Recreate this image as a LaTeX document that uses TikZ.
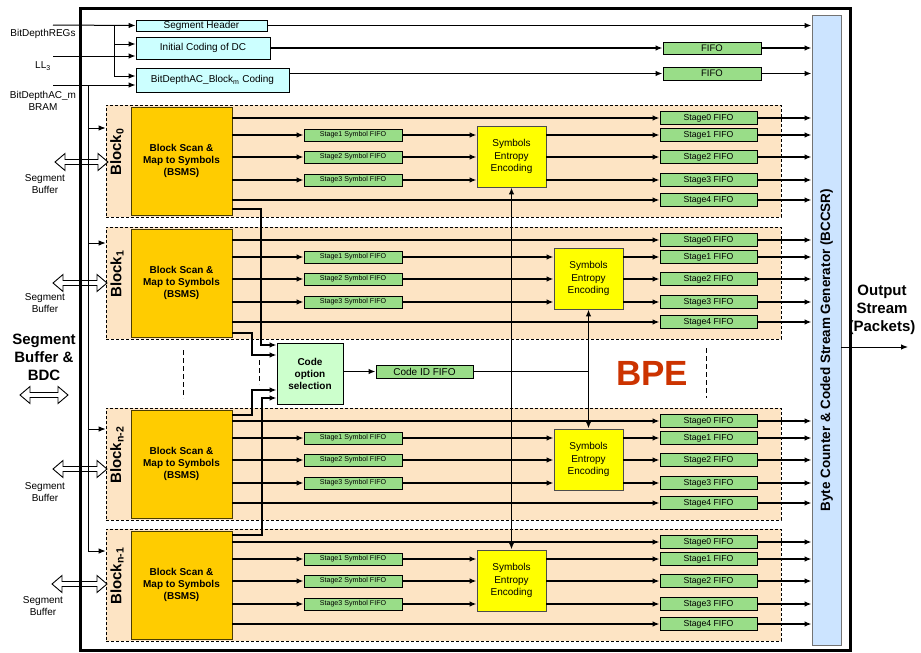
\documentclass[tikz,border=0pt]{standalone}
\usepackage{fontspec}
\setmainfont{Liberation Sans}
\usetikzlibrary{arrows.meta,calc}

\definecolor{cyanbox}{RGB}{204,255,255}
\definecolor{fifo}{RGB}{153,221,136}
\definecolor{gold}{RGB}{255,204,0}
\definecolor{peach}{RGB}{253,228,196}
\definecolor{bccsrc}{RGB}{204,228,255}
\definecolor{codegreen}{RGB}{204,255,204}
\definecolor{bpec}{RGB}{204,51,0}
\definecolor{yel}{RGB}{255,255,0}

\tikzset{
  box/.style={draw, inner sep=0pt, align=center, line width=0.9pt},
  arr/.style={-{Latex[length=7pt,width=5.5pt]}, line width=1.8pt},
  thinarr/.style={-{Latex[length=7pt,width=5.5pt]}, line width=1pt},
  dblarr/.style={{Latex[length=7pt,width=5.5pt]}-{Latex[length=7pt,width=5.5pt]}, line width=1.8pt},
  blockbg/.style={draw, dashed, dash pattern=on 3pt off 2pt, fill=peach, line width=0.7pt, minimum width=675pt, minimum height=112pt, inner sep=0pt},
  bsms/.style={box, fill=gold, draw=black!70!gold, minimum width=101pt, minimum height=108pt, font=\bfseries\fontsize{10}{12}\selectfont},
  symfifo/.style={box, fill=fifo, minimum width=98pt, minimum height=12pt, font=\fontsize{7.1}{8}\selectfont},
  stagefifo/.style={box, fill=fifo, minimum width=97pt, minimum height=13pt, font=\fontsize{8.7}{9}\selectfont},
  seebox/.style={box, fill=yel, draw=black!70, minimum width=69pt, minimum height=61pt, font=\fontsize{10}{12.5}\selectfont},
  topbox/.style={box, fill=cyanbox, font=\fontsize{10}{11}\selectfont},
  blklabel/.style={rotate=90, font=\bfseries\fontsize{15}{15}\selectfont, inner sep=0pt},
  sidelabel/.style={align=center, font=\fontsize{10}{13}\selectfont, inner sep=0pt},
  hollow/.style={draw, line width=0.9pt},
  dashline/.style={dashed, dash pattern=on 5pt off 3pt, line width=0.9pt}
}

% #1 id, #2 top y, #3 SEE left x, #4 subscript
\newcommand{\bperow}[4]{%
  \node[blockbg] (blk#1) at (443.5,{#2+56}) {};
  \node[bsms] (bs#1) at (181.5,{#2+56}) {Block Scan \&\\Map to Symbols\\(BSMS)};
  \node[blklabel] (bl#1) at (117,{#2+47}) {Block\textsubscript{#4}};
  \node[seebox] (see#1) at ({#3+34.5},{#2+51.5}) {Symbols\\Entropy\\Encoding};
  \foreach \k/\d in {0/13,1/30,2/52,3/75,4/95} {
    \node[stagefifo] (st#1\k) at (708.5,{#2+\d}) {Stage\k\ FIFO};
    \draw[arr] (st#1\k.east) -- (st#1\k.east -| bccsr.west);
  }
  \foreach \k/\d in {1/30,2/52,3/75} {
    \node[symfifo] (sy#1\k) at (353,{#2+\d}) {Stage\k\ Symbol FIFO};
    \draw[arr] (bs#1.east |- sy#1\k) -- (sy#1\k.west);
    \draw[arr] (sy#1\k.east) -- (sy#1\k.east -| see#1.west);
    \draw[arr] (see#1.east |- sy#1\k) -- (st#1\k.west);
  }
  \draw[arr] (bs#1.east |- st#10) -- (st#10.west);
  \draw[arr] (bs#1.east |- st#14) -- (st#14.west);
}

% hollow double arrow: #1 x1, #2 x2, #3 y
\newcommand{\hollowarrow}[3]{%
  \draw[hollow] (#1,#3) -- ({#1+10},{#3-8.5}) -- ({#1+10},{#3-2.5}) -- ({#2-10},{#3-2.5}) -- ({#2-10},{#3-8.5}) -- (#2,#3)
    -- ({#2-10},{#3+8.5}) -- ({#2-10},{#3+2.5}) -- ({#1+10},{#3+2.5}) -- ({#1+10},{#3+8.5}) -- cycle;
}

\begin{document}
\begin{tikzpicture}[x=1pt,y=-1pt]
\useasboundingbox (0,0) rectangle (921,653);
\fill[white] (0,0) rectangle (921,653);

% BCCSR
\node[draw=black!55, fill=bccsrc, line width=0.9pt, minimum width=29pt, minimum height=630pt, inner sep=0pt] (bccsr) at (826.5,330) {};
\node[rotate=90, font=\bfseries\fontsize{13.5}{13.5}\selectfont, inner sep=0pt] (bccsrlabel) at (826.5,350) {Byte Counter \& Coded Stream Generator (BCCSR)};

% top boxes
\node[topbox, minimum width=131pt, minimum height=11pt] (segh) at (201.5,25.5) {Segment Header};
\node[topbox, minimum width=134pt, minimum height=22pt] (icdc) at (203,48) {Initial Coding of DC};
\node[topbox, minimum width=153pt, minimum height=24pt] (bdac) at (212.5,80) {BitDepthAC\_Block\textsubscript{m} Coding};
\node[stagefifo, minimum width=98pt, minimum height=12pt, font=\fontsize{9.5}{10}\selectfont] (fifo1) at (712,48) {FIFO};
\node[stagefifo, minimum width=98pt, minimum height=13pt, font=\fontsize{9.5}{10}\selectfont] (fifo2) at (712,73.5) {FIFO};

\draw[arr] (segh.east) -- (segh.east -| bccsr.west);
\draw[arr] (icdc.east) -- (fifo1.west);
\draw[arr] (fifo1.east) -- (fifo1.east -| bccsr.west);
\draw[arr] (fifo2.west -| bdac.east) -- (fifo2.west);
\draw[arr] (fifo2.east) -- (fifo2.east -| bccsr.west);

% left input labels
\node[sidelabel] (lregs) at (43,34) {BitDepthREGs};
\node[sidelabel] (lll) at (43,66) {LL\textsubscript{3}};
\node[sidelabel, font=\fontsize{10}{12}\selectfont] (lbram) at (43,101) {BitDepthAC\_m\\BRAM};

\coordinate (inA) at (53,25);
\coordinate (inB) at (53,56);
\coordinate (inC) at (53,85);
\coordinate (brA) at (114,25);
\draw[thinarr] (inA) -- (segh.west);
\draw[line width=1pt] (brA) -- (114,76);
\draw[thinarr] (114,44) -- (segh.west |- 0,44);
\draw[thinarr] (inB) -- (segh.west |- 0,56);
\draw[thinarr] (114,76) -- (segh.west |- 0,76);
\draw[thinarr] (inC) -- (segh.west |- 0,85);

% rows
\bperow{0}{105}{477}{0}
\bperow{1}{227}{554}{1}
\bperow{2}{408}{554}{n-2}
\bperow{3}{529}{477}{n-1}

% vertical feed line from BRAM
\draw[line width=1pt] (88,85) -- (88,551);
\draw[thinarr] (88,128) -- (blk0.west |- 0,128);
\draw[thinarr] (88,243) -- (blk1.west |- 0,243);
\draw[thinarr] (88,429) -- (blk2.west |- 0,429);
\draw[thinarr] (88,551) -- (blk3.west |- 0,551);

% code option selection
\node[box, fill=codegreen, minimum width=66pt, minimum height=61pt, font=\bfseries\fontsize{10}{12}\selectfont] (cos) at (310,373.5) {Code\\option\\selection};
\node[box, fill=fifo, minimum width=97pt, minimum height=13pt, font=\fontsize{10}{10}\selectfont] (cid) at (424.5,371.5) {Code ID FIFO};
\draw[arr] (cos.east |- cid) -- (cid.west);
\draw[line width=1.8pt] (cid.east) -- (cid.east -| see1.south);

\draw[arr] (bs0.east |- 0,209) -| (261,345) -- (cos.west |- 0,345);
\draw[arr] (bs1.east |- 0,333) -| (252,355) -- (cos.west |- 0,355);
\draw[arr] (bs2.east |- 0,415) -| (252,390) -- (cos.west |- 0,390);
\draw[arr] (bs3.east |- 0,535) -| (262,398) -- (cos.west |- 0,398);

% verticals between SEEs
\draw[dblarr] (see0.south) -- (see3.north);
\draw[dblarr] (see1.south) -- (see2.north);

% BPE and dashed separators
\node[font=\bfseries\fontsize{35}{35}\selectfont, text=bpec, inner sep=0pt] (bpe) at (652,373) {BPE};
\draw[dashline] (183,350) -- (183,398);
\draw[dashline] (259,360) -- (259,384);
\draw[dashline] (706,348) -- (706,398);

% frame
\draw[line width=3pt] (80,8) rectangle (850,650);

% output
\coordinate (outend) at (908,347);
\draw[thinarr] (bccsr.east |- outend) -- (outend);
\node[align=center, font=\bfseries\fontsize{15}{18}\selectfont, inner sep=0pt] (outlbl) at (882,310) {Output\\Stream\\(Packets)};

% segment buffers
\hollowarrow{55}{108}{162}
\hollowarrow{53}{107}{283}
\hollowarrow{53}{107}{469}
\hollowarrow{52}{107}{584}
\hollowarrow{20}{68}{395}
\node[sidelabel, font=\fontsize{10}{12.5}\selectfont] (sb0) at (45,184) {Segment\\Buffer};
\node[sidelabel, font=\fontsize{10}{12.5}\selectfont] (sb1) at (45,303) {Segment\\Buffer};
\node[sidelabel, font=\fontsize{10}{12.5}\selectfont] (sb2) at (45,492) {Segment\\Buffer};
\node[sidelabel, font=\fontsize{10}{12.5}\selectfont] (sb3) at (43,606) {Segment\\Buffer};
\node[align=center, font=\bfseries\fontsize{15}{18}\selectfont, inner sep=0pt] (sbbdc) at (44,357) {Segment\\Buffer \&\\BDC};
\end{tikzpicture}
\end{document}
